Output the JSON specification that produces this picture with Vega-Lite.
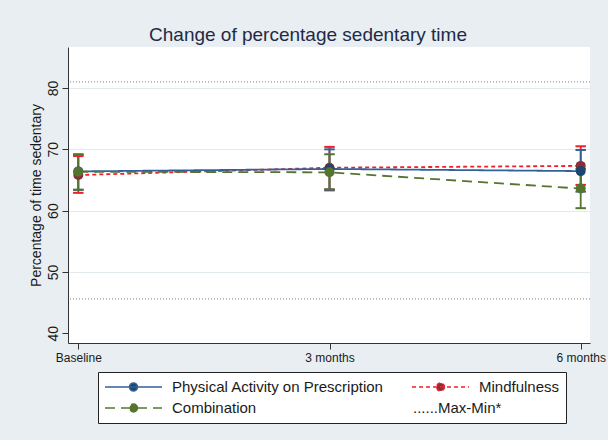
{
  "$schema": "https://vega.github.io/schema/vega-lite/v6.json",
  "width": 522,
  "height": 296,
  "autosize": {"type": "none"},
  "padding": {"left": 68, "top": 47, "right": 18, "bottom": 97},
  "background": "#e8eef1",
  "config": {
    "view": {"fill": "white", "stroke": null},
    "font": "Liberation Sans"
  },
  "title": {
    "text": "Change of percentage sedentary time",
    "fontSize": 19,
    "fontWeight": "normal",
    "color": "#1e2a47",
    "font": "Liberation Sans",
    "anchor": "middle",
    "dx": -21,
    "offset": 2
  },
  "datasets": {
    "stats": [
      {"group": "Mindfulness", "time": 0, "mean": 65.8, "lo": 62.9, "hi": 68.9},
      {"group": "Mindfulness", "time": 1, "mean": 67.0, "lo": 63.3, "hi": 70.4},
      {"group": "Mindfulness", "time": 2, "mean": 67.3, "lo": 64.2, "hi": 70.5},
      {"group": "Physical Activity on Prescription", "time": 0, "mean": 66.4, "lo": 63.4, "hi": 69.2},
      {"group": "Physical Activity on Prescription", "time": 1, "mean": 66.8, "lo": 63.4, "hi": 70.0},
      {"group": "Physical Activity on Prescription", "time": 2, "mean": 66.45, "lo": 63.1, "hi": 69.9},
      {"group": "Combination", "time": 0, "mean": 66.35, "lo": 63.4, "hi": 69.1},
      {"group": "Combination", "time": 1, "mean": 66.25, "lo": 63.5, "hi": 69.2},
      {"group": "Combination", "time": 2, "mean": 63.6, "lo": 60.4, "hi": 66.8}
    ],
    "bounds": [
      {"group": "Max-Min*", "bound": "Max", "value": 81.0},
      {"group": "Max-Min*", "bound": "Min", "value": 45.6}
    ]
  },
  "layer": [
    {
      "data": {"name": "bounds"},
      "mark": {"type": "rule", "strokeWidth": 1.3},
      "encoding": {
        "y": {
          "field": "value",
          "type": "quantitative",
          "scale": {"domain": [38.4, 86.7], "nice": false, "zero": false},
          "axis": {
            "values": [40, 50, 60, 70, 80],
            "labelAngle": 270,
            "labelFontSize": 14,
            "labelColor": "#1a1a1a",
            "labelPadding": 2,
            "title": "Percentage of time sedentary",
            "titleFontSize": 14,
            "titleFontWeight": "normal",
            "titleColor": "#1a1a1a",
            "titlePadding": 3,
            "tickSize": 6,
            "tickColor": "#333333",
            "domainColor": "#333333",
            "grid": true,
            "gridColor": {"condition": {"test": "datum.value === 40", "value": "transparent"}, "value": "#e2eaee"},
            "gridWidth": 1.2
          }
        },
        "color": {
          "field": "group",
          "type": "nominal",
          "scale": {
            "domain": ["Physical Activity on Prescription", "Combination", "Mindfulness", "Max-Min*"],
            "range": ["#34609a", "#55752f", "#f0202a", "#9a9a9a"]
          },
          "legend": {
            "title": null,
            "orient": "none",
            "legendX": 30,
            "legendY": 325,
            "columns": 2,
            "columnPadding": 27,
            "rowPadding": 3,
            "padding": 6,
            "strokeColor": "#222222",
            "fillColor": "white",
            "cornerRadius": 0,
            "labelFontSize": 15,
            "labelColor": "#1a1a1a",
            "labelFont": "Liberation Sans",
            "labelOffset": 9,
            "labelLimit": 400,
            "symbolType": "M-1,0H1M0.14,0A0.14,0.14,0,1,1,-0.14,0A0.14,0.14,0,1,1,0.14,0",
            "symbolSize": 3249,
            "symbolStrokeWidth": 1.5,
            "clipHeight": 18,
            "labelExpr": "datum.label == 'Max-Min*' ? '......Max-Min*' : datum.label",
            "encode": {
              "symbols": {
                "update": {
                  "fill": {"signal": "datum.value == 'Mindfulness' ? '#8e2d35' : datum.value == 'Combination' ? '#55752f' : '#1a476f'"},
                  "opacity": {"signal": "datum.value == 'Max-Min*' ? 0 : 1"}
                }
              },
              "labels": {
                "update": {
                  "dx": {"signal": "datum.value == 'Max-Min*' ? -66 : 0"}
                }
              }
            }
          }
        },
        "strokeDash": {
          "field": "group",
          "type": "nominal",
          "scale": {
            "domain": ["Physical Activity on Prescription", "Combination", "Mindfulness", "Max-Min*"],
            "range": [[1, 0], [10, 6], [4, 3], [1, 2]]
          }
        }
      }
    },
    {
      "data": {"name": "stats"},
      "mark": {"type": "line", "strokeWidth": 1.8},
      "encoding": {
        "x": {
          "field": "time",
          "type": "quantitative",
          "scale": {"domain": [-0.041, 2.037], "nice": false, "zero": false},
          "axis": {
            "values": [0, 1, 2],
            "labelExpr": "datum.value == 0 ? 'Baseline' : datum.value == 1 ? '3 months' : '6 months'",
            "title": null,
            "grid": false,
            "labelFontSize": 12,
            "labelColor": "#1a1a1a",
            "labelFlush": false,
            "labelOverlap": false,
            "labelPadding": 3,
            "tickSize": 6,
            "tickColor": "#333333",
            "domainColor": "#333333"
          }
        },
        "y": {"field": "mean", "type": "quantitative"},
        "color": {"field": "group", "type": "nominal"},
        "strokeDash": {"field": "group", "type": "nominal"},
        "detail": {"field": "group"}
      }
    },
    {
      "data": {"name": "stats"},
      "mark": {"type": "rule", "strokeWidth": 1.8},
      "encoding": {
        "x": {"field": "time", "type": "quantitative"},
        "y": {"field": "lo", "type": "quantitative"},
        "y2": {"field": "hi"},
        "color": {"field": "group", "type": "nominal"}
      }
    },
    {
      "data": {"name": "stats"},
      "mark": {"type": "point", "shape": "stroke", "filled": false, "size": 110, "strokeWidth": 2, "opacity": 1},
      "encoding": {
        "x": {"field": "time", "type": "quantitative"},
        "y": {"field": "lo", "type": "quantitative"},
        "color": {"field": "group", "type": "nominal"}
      }
    },
    {
      "data": {"name": "stats"},
      "mark": {"type": "point", "shape": "stroke", "filled": false, "size": 110, "strokeWidth": 2, "opacity": 1},
      "encoding": {
        "x": {"field": "time", "type": "quantitative"},
        "y": {"field": "hi", "type": "quantitative"},
        "color": {"field": "group", "type": "nominal"}
      }
    },
    {
      "data": {"name": "stats"},
      "mark": {"type": "point", "filled": true, "size": 100, "opacity": 1, "strokeWidth": 0},
      "encoding": {
        "x": {"field": "time", "type": "quantitative"},
        "y": {"field": "mean", "type": "quantitative"},
        "fill": {
          "field": "group",
          "type": "nominal",
          "scale": {
            "domain": ["Physical Activity on Prescription", "Mindfulness", "Combination"],
            "range": ["#1a476f", "#8e2d35", "#55752f"]
          },
          "legend": null
        }
      }
    }
  ]
}
